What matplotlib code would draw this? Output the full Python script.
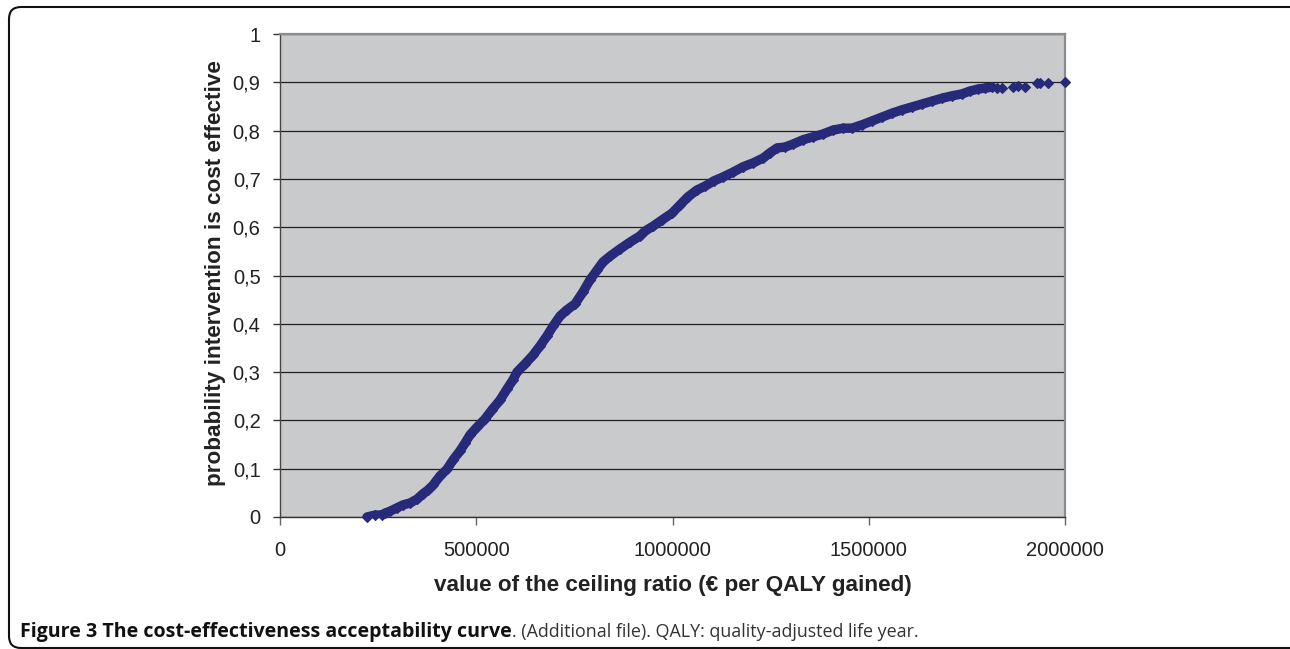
import matplotlib
matplotlib.use('Agg')
import matplotlib.pyplot as plt
from matplotlib.patches import FancyBboxPatch
from matplotlib.transforms import IdentityTransform

# ---- data ----
ceiling_ratio = [
    221700, 242000, 259900, 267500, 280300, 298100, 313400, 331200, 349000, 364300,
    377100, 389800, 407600, 425500, 440800, 458600, 471300, 484100, 501900, 522300,
    540100, 560500, 578300, 593600, 603800, 624200, 644600, 662400, 680300, 695500,
    713400, 731200, 751600, 772000, 789800, 807700, 822900, 840800, 866300, 891700,
    917200, 929900, 950300, 973300, 998700, 1019100, 1039500, 1062400, 1082800, 1105800,
    1128700, 1154200, 1179600, 1205100, 1230600, 1248400, 1266300, 1286600, 1307000, 1332500,
    1358000, 1383500, 1408900, 1434400, 1457300, 1482800, 1508300, 1533800, 1559200, 1584700,
    1610200, 1635700, 1661100, 1686600, 1712100, 1737600, 1758000, 1778300, 1796200, 1814000,
    1826800, 1839500, 1867500, 1880300, 1898100, 1928700, 1936300, 1956700, 2000000,
]
prob_cost_effective = [
    0.000, 0.004, 0.004, 0.008, 0.012, 0.019, 0.025, 0.029, 0.037, 0.048,
    0.056, 0.066, 0.085, 0.099, 0.118, 0.137, 0.153, 0.170, 0.186, 0.203,
    0.222, 0.242, 0.265, 0.284, 0.300, 0.317, 0.335, 0.354, 0.375, 0.395,
    0.416, 0.429, 0.441, 0.466, 0.491, 0.511, 0.528, 0.540, 0.555, 0.569,
    0.582, 0.592, 0.602, 0.615, 0.629, 0.646, 0.663, 0.677, 0.685, 0.696,
    0.704, 0.714, 0.725, 0.733, 0.743, 0.754, 0.764, 0.766, 0.772, 0.781,
    0.787, 0.793, 0.801, 0.805, 0.805, 0.812, 0.820, 0.828, 0.836, 0.843,
    0.849, 0.855, 0.861, 0.867, 0.872, 0.876, 0.882, 0.886, 0.888, 0.890,
    0.888, 0.888, 0.890, 0.892, 0.890, 0.899, 0.899, 0.899, 0.900,
]
n_dense = 80  # dense part of the curve, drawn as a continuous band

x_ticks = [0, 500000, 1000000, 1500000, 2000000]
x_tick_labels = ['0', '500000', '1000000', '1500000', '2000000']
y_ticks = [0, 0.1, 0.2, 0.3, 0.4, 0.5, 0.6, 0.7, 0.8, 0.9, 1.0]
y_tick_labels = ['0', '0,1', '0,2', '0,3', '0,4', '0,5', '0,6', '0,7', '0,8', '0,9', '1']

x_label = 'value of the ceiling ratio (€ per QALY gained)'
y_label = 'probability intervention is cost effective'
caption_bold = 'Figure 3 The cost-effectiveness acceptability curve'
caption_rest = '. (Additional file). QALY: quality-adjusted life year.'

# ---- figure ----
W, H = 1290, 649
fig = plt.figure(figsize=(W / 100, H / 100), dpi=100)
fig.patch.set_facecolor('white')

ax = fig.add_axes([280 / W, 132 / H, 785 / W, 483 / H])
ax.set_facecolor('#C9CACC')
ax.set_xlim(0, 2000000)
ax.set_ylim(0, 1)

navy = '#262A78'
ax.plot(ceiling_ratio[:n_dense], prob_cost_effective[:n_dense], '-', color=navy,
        lw=6.8, solid_capstyle='round', solid_joinstyle='round', zorder=3)
ax.plot(ceiling_ratio, prob_cost_effective, 'D', color=navy, ms=5.6, mew=0.8,
        mec=navy, zorder=4, clip_on=False)

ax.set_xticks(x_ticks)
ax.set_xticklabels(x_tick_labels)
ax.set_yticks(y_ticks)
ax.set_yticklabels(y_tick_labels)

tick_family = ['Liberation Sans', 'DejaVu Sans']
for lbl in ax.get_xticklabels() + ax.get_yticklabels():
    lbl.set_fontfamily(tick_family)
    lbl.set_fontsize(14.5)
    lbl.set_color('#222222')

ax.tick_params(axis='x', direction='out', length=6, width=1, color='#666666', pad=11)
ax.tick_params(axis='y', direction='out', length=5, width=1, color='#333333', pad=9)

ax.yaxis.grid(True, color='#202020', lw=0.9)
ax.xaxis.grid(False)
ax.set_axisbelow(True)

for side in ['top', 'right']:
    ax.spines[side].set_color('#8C8C8C')
    ax.spines[side].set_linewidth(1.6)
ax.spines['left'].set_color('#444444')
ax.spines['left'].set_linewidth(1.0)
ax.spines['bottom'].set_color('#333333')
ax.spines['bottom'].set_linewidth(1.0)

lab_font = dict(family=['Liberation Sans', 'DejaVu Sans'], size=16.2, weight='bold', color='#222222')
fig.text(672.5 / W, 1 - 586 / H, x_label, ha='center', va='center', **lab_font)
fig.text(215 / W, 1 - 273 / H, y_label, ha='center', va='center', rotation=90, **lab_font)

# caption
cap_y = 1 - 632 / H
t1 = fig.text(20 / W, cap_y, caption_bold, ha='left', va='center',
              family=['Open Sans', 'DejaVu Sans'], size=14.1, weight='bold', color='#111111')
fig.canvas.draw()
bb = t1.get_window_extent(renderer=fig.canvas.get_renderer())
fig.text(bb.x1 / W, cap_y, caption_rest, ha='left', va='center',
         family=['Open Sans', 'DejaVu Sans'], size=12.9, color='#333333')

# rounded frame
frame = FancyBboxPatch((9, 1), 1400, 641, boxstyle='round,pad=0,rounding_size=12',
                       transform=IdentityTransform(), fill=False, ec='#111111', lw=1.5,
                       figure=fig)
fig.add_artist(frame)

fig.savefig('out.png', dpi=100)
